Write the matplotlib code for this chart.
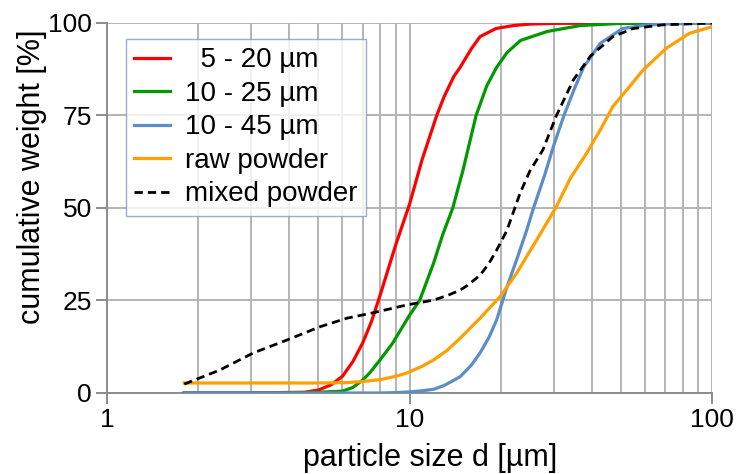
import matplotlib.pyplot as plt
from matplotlib.ticker import FixedLocator, NullFormatter

plt.rcParams['font.family'] = ['Liberation Sans', 'DejaVu Sans']

# particle size distributions (cumulative weight in %)
x_5_20 = [1.8, 3, 4.5, 5, 5.5, 6, 6.5, 7, 7.5, 8, 9, 10, 11, 12.3, 13, 14, 14.7, 16, 17.1, 19.3, 22, 25, 30, 100]
y_5_20 = [0, 0, 0.2, 0.8, 2.2, 4.5, 8.5, 13.5, 19.5, 26.5, 40, 51, 63, 75, 80, 85.5, 88, 93, 96.3, 98.5, 99.3, 99.7, 99.9, 100]

x_10_25 = [1.8, 4, 5, 6, 6.5, 7, 7.4, 8, 8.8, 9.5, 10, 10.8, 12, 12.9, 13.9, 15, 16.6, 18, 19.4, 21, 23.3, 28.5, 36.6, 50, 100]
y_10_25 = [0, 0, 0.2, 0.5, 1.5, 3.5, 5.5, 9, 13.5, 18, 21, 25, 35, 43, 50, 60, 75, 83, 88, 92, 95.3, 97.7, 99.3, 99.9, 100]

x_10_45 = [1.8, 5, 8, 9, 10, 11, 12, 13, 14.7, 16, 17.1, 18.3, 19.4, 21, 22.6, 24.4, 25.7, 28, 30, 32.4, 35, 37.6, 42.7, 50.6, 60, 68.9, 100]
y_10_45 = [0, 0, 0, 0.1, 0.3, 0.6, 1, 2, 4.4, 7.5, 10.8, 15, 19.7, 28.7, 36, 44, 50, 59, 67, 75, 82, 88, 94.5, 98.5, 99.4, 99.7, 100]

x_raw = [1.8, 3, 5, 6.2, 7, 8, 9, 9.8, 11, 12, 13.3, 14.7, 17.1, 19.9, 22.6, 26.3, 30.6, 34, 38.5, 43, 47, 53, 59.2, 70.7, 84.2, 100]
y_raw = [2.7, 2.7, 2.7, 2.8, 3.1, 3.6, 4.5, 5.4, 7.2, 8.9, 11.5, 14.8, 20.2, 26, 32.4, 41.3, 50.4, 58, 64.8, 71.5, 77.4, 82.5, 87.3, 93.2, 97.2, 99]

x_mixed = [1.8, 2.36, 3.04, 3.93, 5.06, 6.2, 7.6, 9.8, 12, 13.3, 14.7, 15.5, 17.1, 18.3, 19.4, 20.2, 21, 23.2, 25, 27.6, 30.6, 34.8, 39.6, 47, 54.8, 68.9, 100]
y_mixed = [2.4, 6.2, 10.8, 14.3, 17.9, 20.2, 21.7, 23.8, 25.1, 26.3, 27.8, 29, 31.8, 35, 38.6, 41.3, 44, 54, 60, 65.7, 75, 84.6, 91, 96.3, 98.5, 99.5, 100]

labels = ['  5 - 20 µm', '10 - 25 µm', '10 - 45 µm', 'raw powder', 'mixed powder']
y_ticks = [0, 25, 50, 75, 100]

fig = plt.figure(figsize=(7.36, 4.74), dpi=100)
ax = fig.add_axes([0.1454, 0.1709, 0.8220, 0.7806])

lw = 2.3
ax.plot(x_5_20, y_5_20, color='#ff0000', lw=lw, label=labels[0], zorder=3)
ax.plot(x_10_25, y_10_25, color='#009a00', lw=lw, label=labels[1], zorder=3)
ax.plot(x_10_45, y_10_45, color='#5b8ec9', lw=lw, label=labels[2], zorder=3)
ax.plot(x_raw, y_raw, color='#ff9f00', lw=lw, label=labels[3], zorder=3)
ax.plot(x_mixed, y_mixed, color='black', lw=2.0, ls=(0, (3, 1.8)), label=labels[4], zorder=4)

ax.set_xscale('log')
ax.set_xlim(1, 100)
ax.set_ylim(0, 100)
ax.set_yticks(y_ticks)
ax.xaxis.set_major_locator(FixedLocator([1, 10, 100]))
ax.xaxis.set_minor_locator(FixedLocator([m * d for d in (1, 10) for m in range(2, 10)]))
ax.xaxis.set_minor_formatter(NullFormatter())
ax.set_xticklabels(['1', '10', '100'])

grid_color = '#b4b4b4'
ax.grid(True, which='both', axis='x', color=grid_color, lw=1.4, zorder=1)
ax.grid(True, which='major', axis='y', color=grid_color, lw=1.4, zorder=1)
ax.tick_params(axis='x', which='minor', length=0)
ax.tick_params(axis='both', which='major', length=8, width=1.4, color='#8c8c8c',
               labelsize=19, pad=3)

for side in ('top', 'right'):
    ax.spines[side].set_visible(False)
for side in ('left', 'bottom'):
    ax.spines[side].set_color('#8c8c8c')
    ax.spines[side].set_linewidth(1.4)

ax.set_xlabel('particle size d [µm]', fontsize=22)
ax.xaxis.set_label_coords(0.534, -0.134)
ax.set_ylabel('cumulative weight [%]', fontsize=22)
ax.yaxis.set_label_coords(-0.100, 0.584)

leg = ax.legend(loc='upper left', bbox_to_anchor=(0.031, 0.957), fontsize=20,
                frameon=True, fancybox=False, edgecolor='#7f9bbf',
                handlelength=1.3, handletextpad=0.55, labelspacing=0.27,
                borderpad=0.3, borderaxespad=0)
leg.get_frame().set_linewidth(1.0)

fig.savefig('out.png', dpi=100)
